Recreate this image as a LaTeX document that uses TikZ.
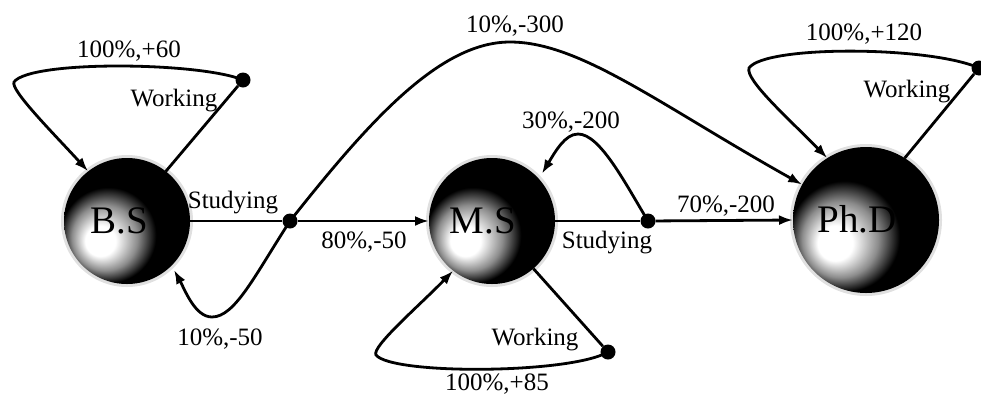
\documentclass[tikz,border=0pt]{standalone}
\usepackage{fontspec}
\setmainfont{Liberation Serif}
\usetikzlibrary{arrows.meta}
\pgfdeclareradialshading{mdpball}{\pgfpoint{-12bp}{-9bp}}{color(0bp)=(white); color(6bp)=(white); color(13bp)=(black!45); color(19bp)=(black); color(50bp)=(black)}
\begin{document}
\begin{tikzpicture}[x=1pt,y=-1pt,
  lbl/.style={font=\fontsize{25}{30}\selectfont, anchor=base, inner sep=0},
  big/.style={font=\fontsize{39}{44}\selectfont, anchor=base, inner sep=0},
  state/.style={circle, shading=mdpball, inner sep=0, outer sep=0,
    preaction={draw=black!12, line width=6pt}},
  chance/.style={circle, fill=black, minimum size=15pt, inner sep=0},
  conn/.style={line width=2.8pt},
  arr/.style={conn, -{Latex[length=14pt,width=10pt]}}]
\useasboundingbox (0,0) rectangle (981,405);
% states
\node[state, minimum size=126pt] (bs) at (127,221) {};
\node[state, minimum size=126pt] (ms) at (492,221) {};
\node[state, minimum size=146pt] (phd) at (866,220) {};
\node[big] (bst) at (119,233) {B.S};
\node[big] (mst) at (483,233) {M.S};
\node[big] (phdt) at (857,232) {Ph.D};
% chance nodes
\node[chance] (d1) at (290,221) {};
\node[chance] (d2) at (648,221) {};
\node[chance] (wb) at (243,80) {};
\node[chance] (wm) at (608,352) {};
\node[chance] (wp) at (979,68) {};
% studying
\draw[conn] (bs.east) -- (d1);
\draw[arr] (d1) -- (ms.west);
\draw[conn] (ms.east) -- (d2);
\draw[arr] (d2) -- (phd.west);
\draw[arr] (d1.center) .. controls (370,120) and (440,42) .. (510,42) .. controls (580,42) and (660,105) .. (phd.151);
\draw[arr, shorten >=5pt] (d1.center) .. controls (255,275) and (235,317) .. (212,317) .. controls (195,317) and (185,290) .. (bs.-45);
\draw[arr, shorten >=6pt] (d2.center) .. controls (625,183) and (600,134) .. (578,134) .. controls (565,134) and (555,152) .. (ms.42);
% working
\draw[conn] (bs.52) -- (wb);
\draw[arr] (wb.center) .. controls (200,62) and (30,60) .. (14,82) .. controls (10,90) and (55,135) .. (bs.128);
\draw[conn] (ms.-49) -- (wm);
\draw[arr] (wm.center) .. controls (570,374) and (392,375) .. (376,355) .. controls (371,347) and (420,305) .. (ms.-128);
\draw[conn] (phd.58) -- (wp);
\draw[arr] (wp.center) .. controls (930,46) and (765,45) .. (749,68) .. controls (745,80) and (790,120) .. (phd.122);
% labels
\node[lbl] (l1) at (129,57) {100\%,+60};
\node[lbl] (l2) at (174,106) {Working};
\node[lbl] (l3) at (233,208) {Studying};
\node[lbl] (l4) at (364,248) {80\%,-50};
\node[lbl] (l5) at (220,345) {10\%,-50};
\node[lbl] (l6) at (515,32) {10\%,-300};
\node[lbl] (l7) at (571,128) {30\%,-200};
\node[lbl] (l8) at (607,248) {Studying};
\node[lbl] (l9) at (726,212) {70\%,-200};
\node[lbl] (l10) at (535,345) {Working};
\node[lbl] (l11) at (497,390) {100\%,+85};
\node[lbl] (l12) at (864,40) {100\%,+120};
\node[lbl] (l13) at (907,97) {Working};
\end{tikzpicture}
\end{document}
